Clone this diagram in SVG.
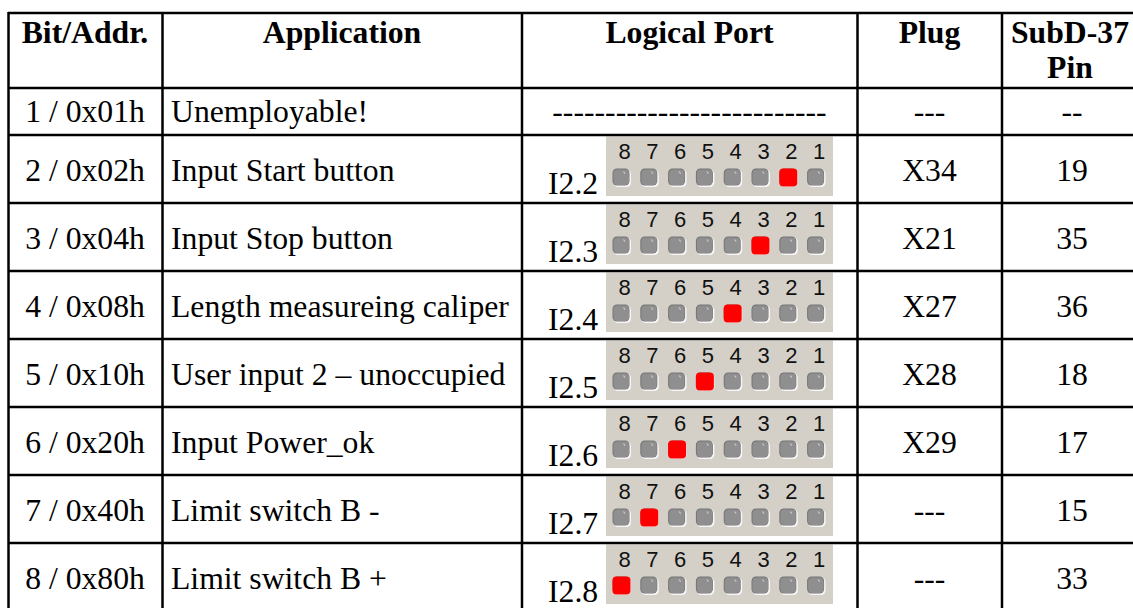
<svg xmlns="http://www.w3.org/2000/svg" xmlns:xlink="http://www.w3.org/1999/xlink" width="1133" height="608" viewBox="0 0 1133 608">
<style>
.t{font-family:"Liberation Serif","Times New Roman",serif;font-size:31.7px;fill:#000}
.h{font-weight:bold}
.c{text-anchor:middle}
.d{font-family:"Liberation Sans",Arial,sans-serif;font-size:22px;fill:#111;text-anchor:middle}
.g line{stroke:#000;stroke-width:2.5}
</style>
<defs>
<g id="ledOff">
<rect x="1" y="1" width="17.5" height="17.5" rx="4.5" fill="#f7f7f7"/>
<rect x="0" y="0" width="17" height="17" rx="4.5" fill="#747474"/>
<rect x="1" y="1" width="15.5" height="15.5" rx="4" fill="#8f8f8f"/>
<path d="M11 3 l1.5 2.2" stroke="#c8c8c8" stroke-width="1.2" fill="none"/>
</g>
<rect id="ledOn" x="0" y="0" width="18" height="18" rx="4" fill="#ff0000"/>
<g id="panel">
<rect width="227" height="59.5" fill="#d4d0c8"/>
<text class="d" y="22"><tspan x="18.5">8</tspan><tspan x="46.3">7</tspan><tspan x="74.1">6</tspan><tspan x="101.9">5</tspan><tspan x="129.7">4</tspan><tspan x="157.5">3</tspan><tspan x="185.3">2</tspan><tspan x="213.1">1</tspan></text>
<use xlink:href="#ledOff" href="#ledOff" x="6.5" y="32"/>
<use xlink:href="#ledOff" href="#ledOff" x="34.3" y="32"/>
<use xlink:href="#ledOff" href="#ledOff" x="62.1" y="32"/>
<use xlink:href="#ledOff" href="#ledOff" x="89.9" y="32"/>
<use xlink:href="#ledOff" href="#ledOff" x="117.7" y="32"/>
<use xlink:href="#ledOff" href="#ledOff" x="145.5" y="32"/>
<use xlink:href="#ledOff" href="#ledOff" x="173.3" y="32"/>
<use xlink:href="#ledOff" href="#ledOff" x="201.1" y="32"/>
</g>
</defs>
<rect width="1133" height="608" fill="#fff"/>

<g id="header" class="t h">
<text class="c" x="85" y="43">Bit/Addr.</text>
<text class="c" x="342" y="43">Application</text>
<text class="c" x="689.5" y="43">Logical Port</text>
<text class="c" x="929.5" y="43">Plug</text>
<text class="c" x="1070" y="43">SubD-37</text>
<text class="c" x="1070" y="78">Pin</text>
</g>

<g id="row1" class="t">
<text class="c" x="85" y="122">1 / 0x01h</text>
<text x="171" y="122">Unemployable!</text>
<text class="c" x="689.5" y="122">--------------------------</text>
<text class="c" x="929.5" y="122">---</text>
<text class="c" x="1072" y="122">--</text>
</g>

<g id="row2" class="t">
<text class="c" x="85" y="181">2 / 0x02h</text>
<text x="171" y="181">Input Start button</text>
<use href="#panel" xlink:href="#panel" x="606" y="136.5"/>
<use href="#ledOn" xlink:href="#ledOn" x="779.3" y="168.5"/>
<text x="548" y="194">I2.2</text>
<text class="c" x="929.5" y="181">X34</text>
<text class="c" x="1072" y="181">19</text>
</g>

<g id="row3" class="t">
<text class="c" x="85" y="249">3 / 0x04h</text>
<text x="171" y="249">Input Stop button</text>
<use href="#panel" xlink:href="#panel" x="606" y="204.5"/>
<use href="#ledOn" xlink:href="#ledOn" x="751.5" y="236.5"/>
<text x="548" y="262">I2.3</text>
<text class="c" x="929.5" y="249">X21</text>
<text class="c" x="1072" y="249">35</text>
</g>

<g id="row4" class="t">
<text class="c" x="85" y="317">4 / 0x08h</text>
<text x="171" y="317">Length measureing caliper</text>
<use href="#panel" xlink:href="#panel" x="606" y="272.5"/>
<use href="#ledOn" xlink:href="#ledOn" x="723.7" y="304.5"/>
<text x="548" y="330">I2.4</text>
<text class="c" x="929.5" y="317">X27</text>
<text class="c" x="1072" y="317">36</text>
</g>

<g id="row5" class="t">
<text class="c" x="85" y="385">5 / 0x10h</text>
<text x="171" y="385">User input 2 – unoccupied</text>
<use href="#panel" xlink:href="#panel" x="606" y="340.5"/>
<use href="#ledOn" xlink:href="#ledOn" x="695.9" y="372.5"/>
<text x="548" y="398">I2.5</text>
<text class="c" x="929.5" y="385">X28</text>
<text class="c" x="1072" y="385">18</text>
</g>

<g id="row6" class="t">
<text class="c" x="85" y="453">6 / 0x20h</text>
<text x="171" y="453">Input Power_ok</text>
<use href="#panel" xlink:href="#panel" x="606" y="408.5"/>
<use href="#ledOn" xlink:href="#ledOn" x="668.1" y="440.5"/>
<text x="548" y="466">I2.6</text>
<text class="c" x="929.5" y="453">X29</text>
<text class="c" x="1072" y="453">17</text>
</g>

<g id="row7" class="t">
<text class="c" x="85" y="521">7 / 0x40h</text>
<text x="171" y="521">Limit switch B -</text>
<use href="#panel" xlink:href="#panel" x="606" y="476.5"/>
<use href="#ledOn" xlink:href="#ledOn" x="640.3" y="508.5"/>
<text x="548" y="534">I2.7</text>
<text class="c" x="929.5" y="521">---</text>
<text class="c" x="1072" y="521">15</text>
</g>

<g id="row8" class="t">
<text class="c" x="85" y="589">8 / 0x80h</text>
<text x="171" y="589">Limit switch B +</text>
<use href="#panel" xlink:href="#panel" x="606" y="544.5"/>
<use href="#ledOn" xlink:href="#ledOn" x="612.5" y="576.5"/>
<text x="548" y="602">I2.8</text>
<text class="c" x="929.5" y="589">---</text>
<text class="c" x="1072" y="589">33</text>
</g>

<g id="grid" class="g">
<line x1="8" y1="13" x2="1133" y2="13"/>
<line x1="8" y1="88" x2="1133" y2="88"/>
<line x1="8" y1="135" x2="1133" y2="135"/>
<line x1="8" y1="203" x2="1133" y2="203"/>
<line x1="8" y1="271" x2="1133" y2="271"/>
<line x1="8" y1="339" x2="1133" y2="339"/>
<line x1="8" y1="407" x2="1133" y2="407"/>
<line x1="8" y1="475" x2="1133" y2="475"/>
<line x1="8" y1="543" x2="1133" y2="543"/>
<line x1="8.5" y1="12" x2="8.5" y2="608"/>
<line x1="162.5" y1="12" x2="162.5" y2="608"/>
<line x1="522" y1="12" x2="522" y2="608"/>
<line x1="857.5" y1="12" x2="857.5" y2="608"/>
<line x1="1002" y1="12" x2="1002" y2="608"/>
</g>
</svg>
